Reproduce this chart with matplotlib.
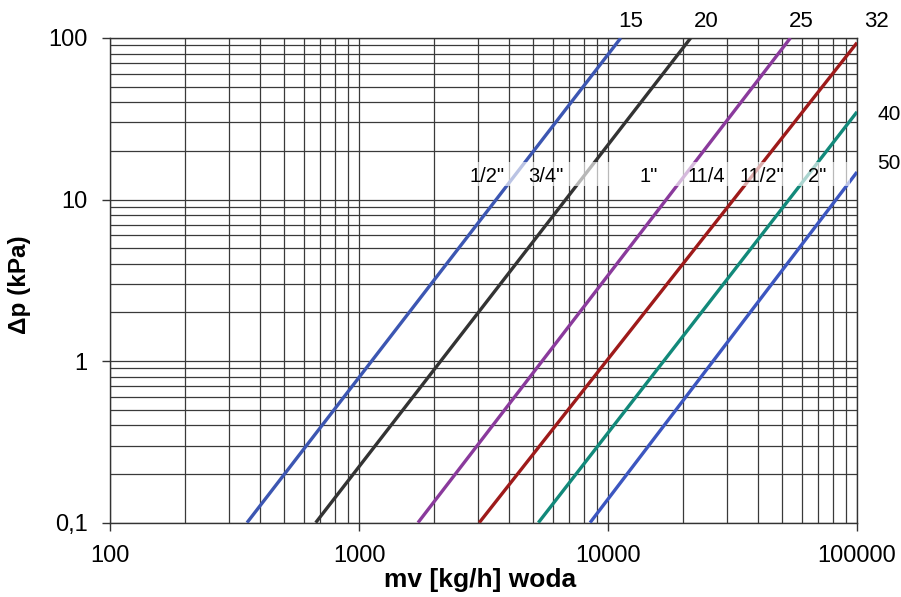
import matplotlib

matplotlib.use("Agg")
import matplotlib.pyplot as plt
import matplotlib.transforms as mtransforms
from matplotlib.ticker import FixedLocator, FixedFormatter, NullFormatter, LogLocator

plt.rcParams["font.family"] = ["Liberation Sans", "DejaVu Sans"]

# size codes (DN) and pipe sizes
sizes = ["15", "20", "25", "32", "40", "50"]
pipe_labels = ['1/2"', '3/4"', '1"', "11/4", '11/2"', '2"']
# two end points of each straight line (mass flow kg/h, dp kPa)
flow_start = [355, 670, 1725, 3040, 5250, 8470]
dp_start = [0.1, 0.1, 0.1, 0.1, 0.1, 0.1]
flow_end = [11250, 21480, 54000, 100000, 100000, 100000]
dp_end = [100, 100, 100, 93.5, 34.9, 14.8]
colors = ["#3c56b2", "#333333", "#8a3a9c", "#9e1a1a", "#12897a", "#3c56c0"]

# where the pipe labels sit along the band
pipe_label_x = [3265, 5640, 14620, 24900, 41400, 68900]

y_ticks = [0.1, 1, 10, 100]
y_tick_labels = ["0,1", "1", "10", "100"]
x_ticks = [100, 1000, 10000, 100000]
x_tick_labels = ["100", "1000", "10000", "100000"]

fig = plt.figure(figsize=(9.01, 5.97), dpi=100)
ax = fig.add_axes([0.1221, 0.1245, 0.8291, 0.8119])

ax.set_xscale("log")
ax.set_yscale("log")
ax.set_xlim(100, 100000)
ax.set_ylim(0.1, 100)

for x0, y0, x1, y1, c in zip(flow_start, dp_start, flow_end, dp_end, colors):
    ax.plot([x0, x1], [y0, y1], color=c, lw=2.4, solid_capstyle="butt", zorder=3)

ax.xaxis.set_major_locator(FixedLocator(x_ticks))
ax.xaxis.set_major_formatter(FixedFormatter(x_tick_labels))
ax.yaxis.set_major_locator(FixedLocator(y_ticks))
ax.yaxis.set_major_formatter(FixedFormatter(y_tick_labels))
ax.xaxis.set_minor_locator(LogLocator(base=10, subs=range(2, 10)))
ax.yaxis.set_minor_locator(LogLocator(base=10, subs=range(2, 10)))
ax.xaxis.set_minor_formatter(NullFormatter())
ax.yaxis.set_minor_formatter(NullFormatter())
ax.tick_params(which="major", direction="out", length=6, width=1, pad=10,
               labelsize=17, color="#333333")
ax.tick_params(which="minor", length=0)

ax.grid(which="both", color="#3a3a3a", lw=0.9, zorder=1)
ax.set_axisbelow(True)
for s in ax.spines.values():
    s.set_color("#333333")
    s.set_linewidth(1)

# translucent band behind the pipe labels
ax.axhspan(12.1, 17.0, xmin=0.473, xmax=0.99, color="white", alpha=0.65, lw=0, zorder=4)
for x, lab in zip(pipe_label_x, pipe_labels):
    ax.text(x, 13.8, lab, ha="center", va="center", fontsize=14.5, zorder=5)

# size labels above and right of the plot
top_tr = mtransforms.blended_transform_factory(ax.transData, ax.transAxes)
top_x = [12360, 24770, 59570, 120200]
for x, lab in zip(top_x, sizes[:4]):
    ax.text(x, 1.034, lab, transform=top_tr, ha="center", va="center",
            fontsize=16, clip_on=False)
right_tr = mtransforms.blended_transform_factory(ax.transAxes, ax.transData)
for y, lab in zip([33.8, 16.8], sizes[4:]):
    ax.text(1.027, y, lab, transform=right_tr, ha="left", va="center",
            fontsize=15, clip_on=False)

fig.text(480 / 901, 1 - 580 / 597, "mv [kg/h] woda", ha="center", va="center",
         fontsize=19, fontweight="bold")
fig.text(20 / 901, 1 - 285 / 597, "\u0394p (kPa)", ha="center", va="center",
         rotation=90, fontsize=17.5, fontweight="bold")

fig.savefig("out.png", dpi=100)
